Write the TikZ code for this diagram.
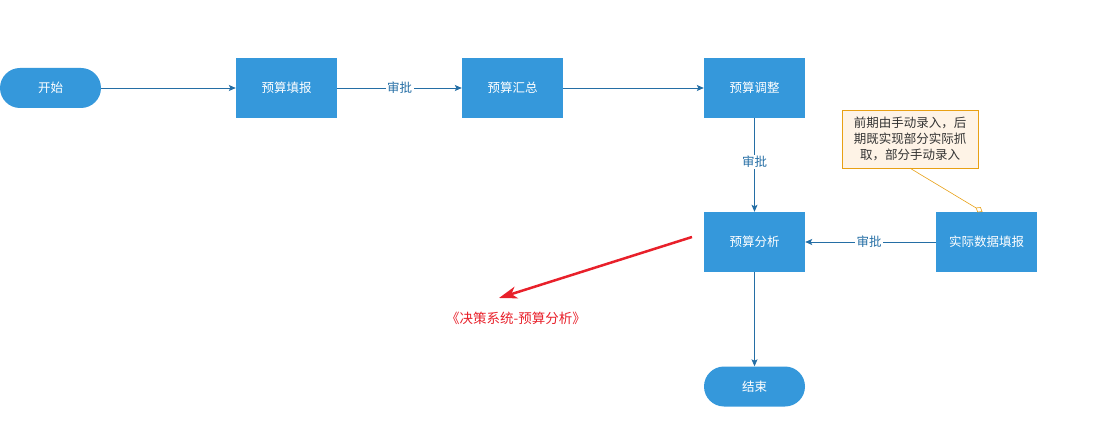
\documentclass[tikz,border=0pt]{standalone}
\usepackage{fontspec}
\newfontfamily\cjk{Noto Sans CJK SC}
\usepackage{tikz}
\usetikzlibrary{arrows.meta,positioning}
\definecolor{boxblue}{RGB}{53,152,219}
\definecolor{lineblue}{RGB}{36,110,165}
\definecolor{noteedge}{RGB}{232,160,20}
\definecolor{notefill}{RGB}{254,243,230}
\definecolor{arrred}{RGB}{232,32,42}

\begin{document}
\begin{tikzpicture}
        % 像素坐标: x向右, y向下
        [x=1pt,y=-1pt,font=\cjk\fontsize{12.5}{16}\selectfont,
        BoxNode/.style={rectangle,fill=boxblue,text=white,minimum width=101pt,minimum height=60pt},
        PillNode/.style={rectangle,rounded corners=20pt,fill=boxblue,text=white,minimum width=101pt,minimum height=40pt},
        NoteNode/.style={rectangle,draw=noteedge,fill=notefill,text=black!80,align=center,minimum width=136pt,minimum height=58pt,inner sep=2pt},
        FlowLine/.style={draw=lineblue,thick,-{Stealth[length=7pt,width=6pt,inset=1.5pt]}},
        CheckLabel/.style={fill=white,text=lineblue,inner sep=1.5pt}]

        \useasboundingbox (0,0) rectangle (1094,430);

        % 开始/结束
        \node[PillNode] (s_1) at (50.5,88) {开始};
        \node[PillNode] (s_2) at (754.5,386.5) {结束};

        % 流程结点
        \node[BoxNode] (p_1) at (286.5,88) {预算填报};
        \node[BoxNode] (p_2) at (512.5,88) {预算汇总};
        \node[BoxNode] (p_3) at (754.5,88) {预算调整};
        \node[BoxNode] (p_4) at (754.5,242) {预算分析};
        \node[BoxNode] (p_5) at (986.5,242) {实际数据填报};

        % 注释
        \node[NoteNode] (n_1) at (910,139) {前期由手动录入，后\\期既实现部分实际抓\\取，部分手动录入};

        % 连线
        \draw[FlowLine](s_1)--(p_1);
        \draw[FlowLine](p_1)--node[CheckLabel]{审批}(p_2);
        \draw[FlowLine](p_2)--(p_3);
        \draw[FlowLine](p_3)--node[CheckLabel,pos=0.47]{审批}(p_4);
        \draw[FlowLine](p_5)--node[CheckLabel,pos=0.51]{审批}(p_4);
        \draw[FlowLine](p_4)--(s_2);
        \draw[noteedge,semithick,-{Diamond[open,length=8pt,width=6pt]}](n_1.south)--([xshift=-4pt]p_5.north);

        % 红色箭头及说明
        \coordinate (r_1) at (692,237);
        \coordinate (r_2) at (499,298);
        \draw[arrred,line width=2.5pt,-{Stealth[length=18pt,width=12pt,inset=5pt]}](r_1)--(r_2);
        \node[text=arrred,font=\cjk\fontsize{13.5}{16}\selectfont] (t_1) at (516,318) {《决策系统-预算分析》};
    \end{tikzpicture}
\end{document}
